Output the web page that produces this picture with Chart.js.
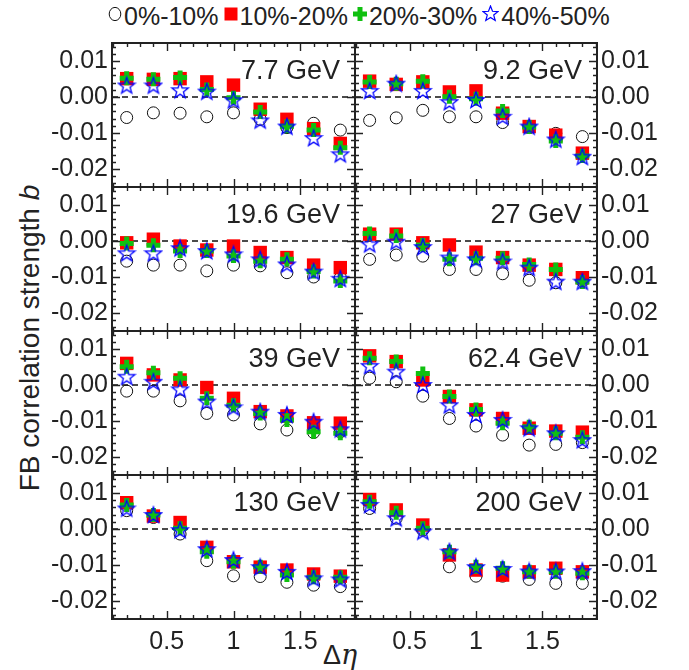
<!DOCTYPE html>
<html>
<head>
<meta charset="utf-8">
<script src="https://cdn.jsdelivr.net/npm/chart.js@4.4.1/dist/chart.umd.min.js"></script>
<style>
body { margin: 0; background: #fff; }
#wrap { position: relative; width: 689px; height: 670px; overflow: hidden;
        font-family: "Liberation Sans", Arial, sans-serif; color: #222; }
#wrap canvas { position: absolute; left: 0; top: 0; }
#leyenda { position: absolute; left: 108px; top: 2px; display: flex; align-items: center;
           font-size: 25px; white-space: nowrap; }
#leyenda svg { margin-right: 2px; position: relative; top: -3px; }
#leyenda span { margin-right: 5px; }
#ytit { position: absolute; left: 30px; top: 338px; transform: translate(-50%, -50%) rotate(-90deg);
        white-space: nowrap; font-size: 28px; }
#xtit { position: absolute; left: 340px; top: 655px; transform: translate(-50%, -50%);
        white-space: nowrap; font-size: 27px; }
#xtit i { font-family: "DejaVu Serif", serif; }
</style>
</head>
<body>
<div id="wrap">
  <div id="leyenda">
    <svg width="14" height="16"><ellipse cx="7" cy="8" rx="5.8" ry="6.6" fill="none" stroke="#111" stroke-width="1"/></svg><span>0%-10%</span>
    <svg width="14" height="14"><rect x="0.5" y="0.5" width="13" height="13" fill="#ff0000"/></svg><span>10%-20%</span>
    <svg width="14" height="14"><rect x="4.5" y="0" width="5" height="14" fill="#10c010"/><rect x="0" y="4.5" width="14" height="5" fill="#10c010"/></svg><span>20%-30%</span>
    <svg width="17" height="17" id="legstar"></svg><span>40%-50%</span>
  </div>
  <div id="ytit">FB correlation strength <i>b</i></div>
  <div id="xtit">Δ<i>η</i></div>
</div>
<script>
// pseudorapidity gap of each point
var deta = [0.2, 0.4, 0.6, 0.8, 1.0, 1.2, 1.4, 1.6, 1.8];
var energias = ['7.7 GeV', '9.2 GeV', '19.6 GeV', '27 GeV', '39 GeV', '62.4 GeV', '130 GeV', '200 GeV'];

// b per centrality class, one row per energy (same order as energias)
var b_0_10 = [
  [-0.0057, -0.0044, -0.0045, -0.0055, -0.0044, -0.0062, -0.0085, -0.0073, -0.0092],
  [-0.0065, -0.0058, -0.0037, -0.0055, -0.0055, -0.0071, -0.0085, -0.0101, -0.0110],
  [-0.0056, -0.0067, -0.0067, -0.0083, -0.0067, -0.0069, -0.0088, -0.0100, -0.0102],
  [-0.0051, -0.0039, -0.0042, -0.0079, -0.0079, -0.0091, -0.0109, -0.0116, -0.0111],
  [-0.0017, -0.0017, -0.0044, -0.0079, -0.0083, -0.0108, -0.0125, -0.0132, -0.0130],
  [0.0019, 0.0009, -0.0031, -0.0093, -0.0114, -0.0139, -0.0167, -0.0165, -0.0160],
  [0.0051, 0.0032, -0.0014, -0.0088, -0.0130, -0.0132, -0.0148, -0.0156, -0.0160],
  [0.0057, 0.0030, -0.0003, -0.0105, -0.0131, -0.0131, -0.0140, -0.0151, -0.0151]
];
var b_10_20 = [
  [0.0051, 0.0049, 0.0051, 0.0042, 0.0033, -0.0034, -0.0062, -0.0088, -0.0129],
  [0.0044, 0.0035, 0.0042, 0.0014, 0.0017, -0.0045, -0.0082, -0.0106, -0.0156],
  [-0.0005, 0.0005, -0.0014, -0.0025, -0.0014, -0.0032, -0.0046, -0.0067, -0.0074],
  [0.0019, 0.0019, -0.0005, -0.0011, -0.0031, -0.0046, -0.0067, -0.0079, -0.0102],
  [0.0060, 0.0028, 0.0014, -0.0007, -0.0037, -0.0074, -0.0086, -0.0105, -0.0106],
  [0.0081, 0.0065, 0.0014, -0.0032, -0.0069, -0.0093, -0.0120, -0.0128, -0.0131],
  [0.0073, 0.0036, 0.0018, -0.0051, -0.0091, -0.0106, -0.0114, -0.0125, -0.0131],
  [0.0082, 0.0053, 0.0011, -0.0072, -0.0114, -0.0128, -0.0119, -0.0109, -0.0119]
];
var b_20_30 = [
  [0.0052, 0.0049, 0.0054, 0.0021, -0.0002, -0.0042, -0.0081, -0.0092, -0.0141],
  [0.0042, 0.0037, 0.0044, 0.0001, -0.0005, -0.0039, -0.0083, -0.0122, -0.0164],
  [-0.0007, -0.0012, -0.0028, -0.0028, -0.0042, -0.0056, -0.0051, -0.0085, -0.0111],
  [0.0021, 0.0014, -0.0011, -0.0051, -0.0048, -0.0048, -0.0065, -0.0079, -0.0114],
  [0.0051, 0.0034, 0.0019, -0.0037, -0.0056, -0.0079, -0.0097, -0.0130, -0.0134],
  [0.0074, 0.0065, 0.0032, -0.0032, -0.0068, -0.0106, -0.0116, -0.0134, -0.0145],
  [0.0067, 0.0039, 0.0002, -0.0063, -0.0091, -0.0105, -0.0128, -0.0134, -0.0134],
  [0.0076, 0.0045, 0.0002, -0.0063, -0.0105, -0.0109, -0.0119, -0.0119, -0.0123]
];
var b_40_50 = [
  [0.0032, 0.0032, 0.0019, 0.0015, -0.0009, -0.0065, -0.0082, -0.0114, -0.0159],
  [0.0017, 0.0037, 0.0017, -0.0014, -0.0008, -0.0055, -0.0082, -0.0118, -0.0166],
  [-0.0034, -0.0034, -0.0020, -0.0028, -0.0037, -0.0051, -0.0065, -0.0085, -0.0105],
  [-0.0009, -0.0002, -0.0017, -0.0046, -0.0051, -0.0057, -0.0074, -0.0113, -0.0113],
  [0.0023, 0.0009, -0.0012, -0.0046, -0.0062, -0.0074, -0.0083, -0.0102, -0.0123],
  [0.0053, 0.0037, 0.0000, -0.0056, -0.0083, -0.0097, -0.0120, -0.0134, -0.0153],
  [0.0057, 0.0039, -0.0003, -0.0056, -0.0086, -0.0106, -0.0119, -0.0137, -0.0140],
  [0.0067, 0.0030, -0.0007, -0.0063, -0.0106, -0.0111, -0.0118, -0.0118, -0.0117]
];

var rango_x = [0.09, 1.91];
var rango_y = [-0.025, 0.015];
var ticks_x = [0.5, 1, 1.5];
var etiq_x = ['0.5', '1', '1.5'];
var ticks_y = [0.01, 0, -0.01, -0.02];
var etiq_y = ['0.01', '0.00', '-0.01', '-0.02'];

// minor ticks every 0.1 in x and 0.002 in y
var menores_x = [];
for (var i = 1; i <= 19; i++) menores_x.push(i / 10);
var menores_y = [];
for (var i = -12; i <= 7; i++) menores_y.push(i * 0.002);

var AZUL = '#0000ff', ROJO = '#ff0000', VERDE = '#10c010', NEGRO = '#111';
var FUENTE = '"Liberation Sans", Arial, sans-serif';

// open five-point star used as marker
function dibujarEstrella(ctx, cx, cy, r1, r2) {
    ctx.beginPath();
    for (var k = 0; k < 10; k++) {
        var r = k % 2 ? r2 : r1;
        var ang = -Math.PI / 2 + k * Math.PI / 5;
        var px = cx + r * Math.cos(ang), py = cy + r * Math.sin(ang);
        if (k == 0) ctx.moveTo(px, py); else ctx.lineTo(px, py);
    }
    ctx.closePath();
}
var estrella = document.createElement('canvas');
estrella.width = 20; estrella.height = 20;
(function () {
    var c = estrella.getContext('2d');
    c.strokeStyle = AZUL; c.lineWidth = 1.3;
    dibujarEstrella(c, 10, 10.6, 8.6, 3.5);
    c.stroke();
})();
document.getElementById('legstar').innerHTML =
    '<polygon fill="none" stroke="' + AZUL + '" stroke-width="1.2" points="' +
    (function () {
        var p = [];
        for (var k = 0; k < 10; k++) {
            var r = k % 2 ? 3.4 : 8;
            var a = -Math.PI / 2 + k * Math.PI / 5;
            p.push((8.5 + r * Math.cos(a)).toFixed(2) + ',' + (9 + r * Math.sin(a)).toFixed(2));
        }
        return p.join(' ');
    })() + '"/>';

function puntos(vals) {
    return deta.map(function (x, j) { return { x: x, y: vals[j] }; });
}

function esMayor(v, lista) {
    return lista.some(function (m) { return Math.abs(m - v) < 1e-9; });
}

// frame, inward ticks on all four sides and the energy label
var marco = {
    id: 'marco',
    afterDraw: function (chart, args, opts) {
        var a = chart.chartArea, c = chart.ctx;
        var sx = chart.scales.x, sy = chart.scales.y;
        c.save();
        c.strokeStyle = '#222';
        c.lineWidth = 1.4;
        c.beginPath();
        menores_x.forEach(function (v) {
            var p = Math.round(sx.getPixelForValue(v)) + 0.5;
            var l = esMayor(v, ticks_x) ? 8 : 4;
            c.moveTo(p, a.bottom); c.lineTo(p, a.bottom - l);
            c.moveTo(p, a.top); c.lineTo(p, a.top + l);
        });
        menores_y.forEach(function (v) {
            var p = Math.round(sy.getPixelForValue(v)) + 0.5;
            var l = esMayor(v, ticks_y) ? 8 : 4;
            c.moveTo(a.left, p); c.lineTo(a.left + l, p);
            c.moveTo(a.right, p); c.lineTo(a.right - l, p);
        });
        c.stroke();
        c.lineWidth = 2;
        c.strokeRect(a.left, a.top, a.right - a.left, a.bottom - a.top);
        c.fillStyle = '#222';
        c.font = '27px ' + FUENTE;
        c.textAlign = 'right';
        c.textBaseline = 'alphabetic';
        c.fillText(opts.texto, a.right - 15, a.top + 36);
        c.restore();
    }
};

function panel(k) {
    var fila = Math.floor(k / 2), col = k % 2;
    var izq = col ? 355 : 112, der = col ? 597 : 355;
    var arriba = 43 + fila * 144, abajo = arriba + 144;
    var anchoY = 60, altoX = 40;
    var pad = {
        top: arriba,
        bottom: 670 - abajo - altoX,
        left: col ? izq : izq - anchoY,
        right: col ? 689 - der - anchoY : 689 - der
    };
    var cv = document.createElement('canvas');
    cv.width = 689; cv.height = 670;
    document.getElementById('wrap').appendChild(cv);

    return new Chart(cv.getContext('2d'), {
        type: 'scatter',
        data: {
            datasets: [
                {
                    data: puntos(b_40_50[k]), pointStyle: estrella, pointRadius: 9, order: 1
                },
                {
                    data: puntos(b_20_30[k]), pointStyle: 'cross', pointRadius: 7,
                    pointBorderColor: VERDE, borderColor: VERDE, pointBorderWidth: 5, order: 2
                },
                {
                    data: puntos(b_10_20[k]), pointStyle: 'rect', pointRadius: 9.5,
                    pointBackgroundColor: ROJO, backgroundColor: ROJO, pointBorderWidth: 0, order: 3
                },
                {
                    data: puntos(b_0_10[k]), pointStyle: 'circle', pointRadius: 6,
                    pointBackgroundColor: 'rgba(0,0,0,0)', pointBorderColor: NEGRO,
                    borderColor: NEGRO, pointBorderWidth: 1, order: 4
                },
                {
                    type: 'line', data: [{ x: rango_x[0], y: 0 }, { x: rango_x[1], y: 0 }],
                    borderColor: '#111', borderWidth: 1.6, borderDash: [6, 4],
                    pointRadius: 0, order: 5
                }
            ]
        },
        options: {
            responsive: false,
            animation: false,
            events: [],
            layout: { padding: pad },
            plugins: {
                legend: { display: false },
                tooltip: { enabled: false },
                marco: { texto: energias[k] }
            },
            scales: {
                x: {
                    type: 'linear', min: rango_x[0], max: rango_x[1],
                    grid: { display: false, drawTicks: false },
                    border: { display: false },
                    afterBuildTicks: function (s) { s.ticks = ticks_x.map(function (v) { return { value: v }; }); },
                    afterFit: function (s) { s.height = altoX; },
                    ticks: {
                        display: fila == 3, padding: 8, maxRotation: 0, autoSkip: false,
                        color: '#222', font: { family: FUENTE, size: 25 },
                        callback: function (v, i) { return etiq_x[i]; }
                    }
                },
                y: {
                    type: 'linear', min: rango_y[0], max: rango_y[1],
                    position: col ? 'right' : 'left',
                    grid: { display: false, drawTicks: false },
                    border: { display: false },
                    afterBuildTicks: function (s) { s.ticks = ticks_y.map(function (v) { return { value: v }; }); },
                    afterFit: function (s) { s.width = anchoY; },
                    ticks: {
                        padding: 4, autoSkip: false,
                        color: '#222', font: { family: FUENTE, size: 25 },
                        callback: function (v, i) { return etiq_y[i]; }
                    }
                }
            }
        },
        plugins: [marco]
    });
}

var graficos = [];
for (var k = 0; k < 8; k++) graficos.push(panel(k));
</script>
</body>
</html>
